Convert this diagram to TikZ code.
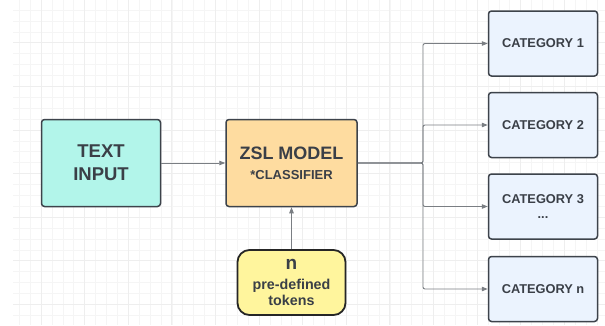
\documentclass[tikz,border=0pt]{standalone}
\usepackage{fontspec}
\setmainfont{Liberation Sans}
\usetikzlibrary{arrows.meta}
\definecolor{txtc}{HTML}{3A3F47}
\definecolor{cyanf}{HTML}{B2F5EA}
\definecolor{orangef}{HTML}{FEDCA0}
\definecolor{yellowf}{HTML}{FFF59D}
\definecolor{bluef}{HTML}{EBF3FE}
\definecolor{edgec}{HTML}{3D434B}
\definecolor{linec}{HTML}{7A7E83}
\definecolor{gridminor}{HTML}{F5F5F5}
\definecolor{gridmajor}{HTML}{EEEEEE}
\tikzset{
  boxbase/.style={draw=edgec, line width=1.5pt, rounded corners=3pt, align=center,
    text=txtc, inner sep=0pt},
  bigbox/.style={boxbase, minimum width=119pt, minimum height=87pt},
  catbox/.style={boxbase, fill=bluef, minimum width=109pt, minimum height=65pt,
    font=\fontsize{12.8}{15}\selectfont\bfseries},
  tokbox/.style={boxbase, fill=yellowf, draw=black!85, line width=1.8pt, rounded corners=12pt,
    minimum width=108pt, minimum height=65pt},
  conn/.style={draw=linec, line width=0.9pt, -{Triangle[length=6pt,width=4.5pt]}, rounded corners=2pt}
}
\begin{document}
\begin{tikzpicture}[x=1pt,y=-1pt]
\useasboundingbox (0,0) rectangle (605,325);
\fill[white] (0,0) rectangle (605,325);
% grid
\foreach \i in {0,...,54} {
  \pgfmathsetmacro{\gx}{19.2+10.9*\i}
  \ifdim \gx pt<605pt
    \draw[gridminor, line width=0.6pt] (\gx,0) -- (\gx,325);
  \fi
}
\foreach \i in {0,...,29} {
  \pgfmathsetmacro{\gy}{10+10.9*\i}
  \ifdim \gy pt<325pt
    \draw[gridminor, line width=0.6pt] (13,\gy) -- (605,\gy);
  \fi
}
\foreach \i in {0,...,13} {
  \pgfmathsetmacro{\gx}{41-43.6+43.6*\i}
  \draw[gridmajor, line width=0.8pt] (\gx,0) -- (\gx,325);
}
\foreach \i in {0,...,7} {
  \pgfmathsetmacro{\gy}{42.7+43.6*\i-43.6}
  \draw[gridmajor, line width=0.8pt] (13,\gy) -- (605,\gy);
}
\fill[white] (0,0) rectangle (13,325);

\node[bigbox, fill=cyanf, font=\fontsize{18.5}{23}\selectfont\bfseries] (txt) at (101,163) {TEXT\\INPUT};
\node[bigbox, fill=orangef, minimum width=131pt, font=\fontsize{13}{19.7}\selectfont\bfseries] (zsl) at (291.5,163)
  {\fontsize{18}{19.7}\selectfont ZSL MODEL\\*CLASSIFIER};
\node[tokbox, font=\fontsize{14.3}{16.3}\selectfont\bfseries] (tok) at (291.5,282.5)
  {\fontsize{19}{16.3}\selectfont n\\[3.4pt]pre-defined\\tokens};

\node[catbox] (c1) at (543,43.5) {CATEGORY 1};
\node[catbox] (c2) at (543,125) {CATEGORY 2};
\node[catbox] (c3) at (543,206.5) {CATEGORY 3\\...};
\node[catbox] (c4) at (543,289) {CATEGORY n};

\coordinate (br) at (423,163);
\draw[conn] (txt.east) -- (zsl.west);
\draw[conn] (tok.north) -- (zsl.south);
\draw[conn] (zsl.east) -- (br) |- (c1.west);
\draw[conn] (zsl.east) -- (br) |- (c2.west);
\draw[conn] (zsl.east) -- (br) |- (c3.west);
\draw[conn] (zsl.east) -- (br) |- (c4.west);
\end{tikzpicture}
\end{document}
